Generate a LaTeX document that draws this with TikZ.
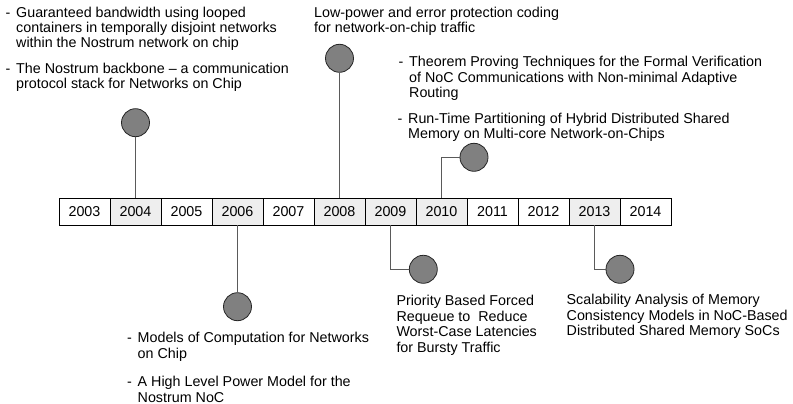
\documentclass[tikz,border=0pt]{standalone}
\usepackage{fontspec}
\setmainfont{Liberation Sans}
\definecolor{boxgray}{HTML}{EEEEEE}
\definecolor{dotgray}{HTML}{808080}
\definecolor{linegray}{HTML}{5A5A5A}
\begin{document}
\begin{tikzpicture}[x=1pt,y=-1pt,
  yearbox/.style={draw=black,line width=0.8pt,minimum width=51pt,minimum height=27pt,inner sep=0pt,fill=white,font=\fontsize{14.3}{15.5}\selectfont},
  shaded/.style={yearbox,fill=boxgray},
  dot/.style={circle,draw=black!85,line width=0.8pt,fill=dotgray,minimum size=28pt,inner sep=0pt},
  conn/.style={draw=linegray,line width=0.9pt},
  lbl/.style={anchor=north west,inner sep=0pt,align=left,font=\fontsize{14.3}{15.5}\selectfont},
  lbltight/.style={lbl,font=\fontsize{14.3}{15}\selectfont}
]
\path[use as bounding box] (0,0) rectangle (793,404);

% year boxes
\node[yearbox] (y2003) at (84.5,211.5) {2003};
\node[shaded]  (y2004) at (135.5,211.5) {2004};
\node[yearbox] (y2005) at (186.5,211.5) {2005};
\node[shaded]  (y2006) at (237.5,211.5) {2006};
\node[yearbox] (y2007) at (288.5,211.5) {2007};
\node[shaded]  (y2008) at (339.5,211.5) {2008};
\node[shaded]  (y2009) at (390.5,211.5) {2009};
\node[shaded]  (y2010) at (441.5,211.5) {2010};
\node[yearbox] (y2011) at (492.5,211.5) {2011};
\node[yearbox] (y2012) at (543.5,211.5) {2012};
\node[shaded]  (y2013) at (594.5,211.5) {2013};
\node[yearbox] (y2014) at (645.5,211.5) {2014};

% circles
\node[dot] (c2004) at (135.5,122.7) {};
\node[dot] (c2006) at (237.5,306.7) {};
\node[dot] (c2008) at (339.5,58.3) {};
\node[dot] (c2009) at (423.3,269.3) {};
\node[dot] (c2010) at (474,157.3) {};
\node[dot] (c2013) at (620,269.3) {};

% connectors
\draw[conn] (y2004) -- (c2004);
\draw[conn] (y2006) -- (c2006);
\draw[conn] (y2008) -- (c2008);
\draw[conn] (y2009.south) |- (c2009.west);
\draw[conn] (y2010.north) |- (c2010.west);
\draw[conn] (y2013.south) |- (c2013.west);

% labels
\node[lbltight] (t1) at (5.5,7.3) {\makebox[10.5pt][l]{-}Guaranteed bandwidth using looped\\\hspace*{10.5pt}containers in temporally disjoint networks\\\hspace*{10.5pt}within the Nostrum network on chip};
\node[lbltight] (t2) at (5.5,62.7) {\makebox[10.5pt][l]{-}The Nostrum backbone -- a communication\\\hspace*{10.5pt}protocol stack for Networks on Chip};
\node[lbltight] (t3) at (314,7.3) {Low-power and error protection coding\\for network-on-chip traffic};
\node[lbl] (t4) at (398.5,56) {\makebox[10.5pt][l]{-}Theorem Proving Techniques for the Formal Verification\\\hspace*{10.5pt}of NoC Communications with Non-minimal Adaptive\\\hspace*{10.5pt}Routing};
\node[lbl] (t5) at (397.5,112.5) {\makebox[10.5pt][l]{-}Run-Time Partitioning of Hybrid Distributed Shared\\\hspace*{10.5pt}Memory on Multi-core Network-on-Chips};
\node[lbl] (t6) at (396.3,295) {Priority Based Forced\\Requeue to\ \ Reduce\\Worst-Case Latencies\\for Bursty Traffic};
\node[lbl] (t7) at (566.5,294) {Scalability Analysis of Memory\\Consistency Models in NoC-Based\\Distributed Shared Memory SoCs};
\node[lbl] (t8) at (127,332.3) {\makebox[10.5pt][l]{-}Models of Computation for Networks\\\hspace*{10.5pt}on Chip};
\node[lbl] (t9) at (127,376) {\makebox[10.5pt][l]{-}A High Level Power Model for the\\\hspace*{10.5pt}Nostrum NoC};
\end{tikzpicture}
\end{document}
